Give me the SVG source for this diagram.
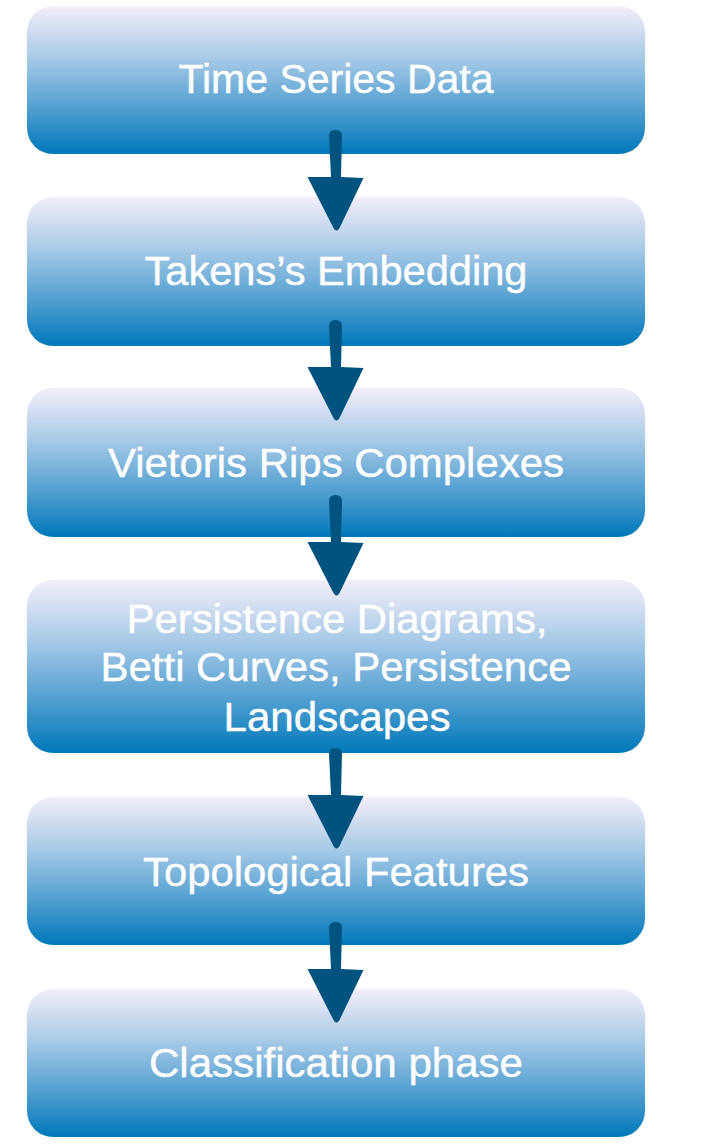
<svg xmlns="http://www.w3.org/2000/svg" width="714" height="1148" viewBox="0 0 714 1148">
  <defs>
    <linearGradient id="boxGrad" x1="0" y1="0" x2="0" y2="1">
      <stop offset="0" stop-color="#F4EEFA"/>
      <stop offset="0.35" stop-color="#A8CAE7"/>
      <stop offset="0.7" stop-color="#4F9ED0"/>
      <stop offset="1" stop-color="#0078BA"/>
    </linearGradient>
    <path id="arrowShape" d="M-6.5,6 Q-6.5,0 0,0 Q6.5,0 6.5,6 L5.5,47 L28,48 L4,98 Q1,103 -2,98 L-28,47 L-4.5,47 Z"/>
  </defs>
  <style>
    .box { fill: url(#boxGrad); }
    .label { font-family: "Liberation Sans", Arial, Helvetica, sans-serif; font-size: 40px; fill: #FFFFFF; stroke: #FFFFFF; stroke-width: 0.4; text-anchor: middle; }
    .arrow { fill: #00527F; }
  </style>
  <rect width="714" height="1148" fill="#FFFFFF"/>

  <g id="node-time-series">
    <rect class="box" x="27" y="6" width="618" height="148" rx="26" ry="26"/>
    <text class="label" x="336" y="93" textLength="315" lengthAdjust="spacingAndGlyphs">Time Series Data</text>
  </g>
  <g id="node-takens">
    <rect class="box" x="27" y="197" width="618" height="149" rx="26" ry="26"/>
    <text class="label" x="336" y="285" textLength="383" lengthAdjust="spacingAndGlyphs">Takens’s Embedding</text>
  </g>
  <g id="node-vietoris">
    <rect class="box" x="27" y="388" width="618" height="149" rx="26" ry="26"/>
    <text class="label" x="336" y="477" textLength="456" lengthAdjust="spacingAndGlyphs">Vietoris Rips Complexes</text>
  </g>
  <g id="node-persistence">
    <rect class="box" x="27" y="580" width="618" height="173" rx="26" ry="26"/>
    <text class="label" x="337" y="633" textLength="421" lengthAdjust="spacingAndGlyphs">Persistence Diagrams,</text>
    <text class="label" x="336" y="681" textLength="471" lengthAdjust="spacingAndGlyphs">Betti Curves, Persistence</text>
    <text class="label" x="337" y="731" textLength="227" lengthAdjust="spacingAndGlyphs">Landscapes</text>
  </g>
  <g id="node-topological">
    <rect class="box" x="27" y="797" width="618" height="148" rx="26" ry="26"/>
    <text class="label" x="336" y="886" textLength="386" lengthAdjust="spacingAndGlyphs">Topological Features</text>
  </g>
  <g id="node-classification">
    <rect class="box" x="27" y="989" width="618" height="148" rx="26" ry="26"/>
    <text class="label" x="336" y="1077" textLength="374" lengthAdjust="spacingAndGlyphs">Classification phase</text>
  </g>

  <g id="connectors" class="arrow">
    <use href="#arrowShape" transform="translate(335.5,130)"/>
    <use href="#arrowShape" transform="translate(335.5,320)"/>
    <use href="#arrowShape" transform="translate(335.5,495)"/>
    <use href="#arrowShape" transform="translate(335.5,748)"/>
    <use href="#arrowShape" transform="translate(335.5,922)"/>
  </g>
</svg>
